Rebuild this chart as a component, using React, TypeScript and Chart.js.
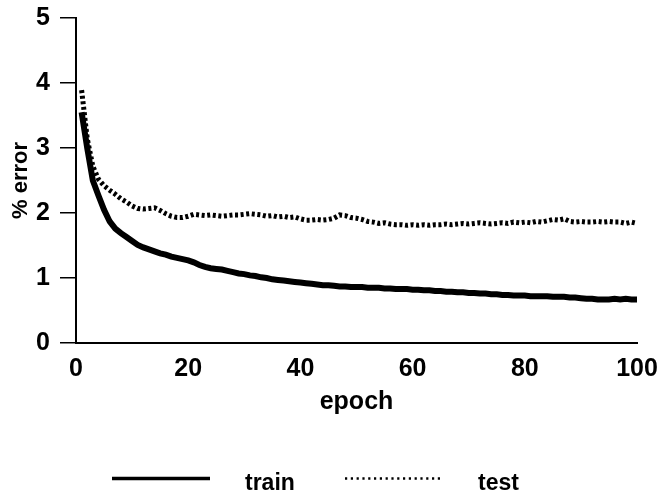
import React, { useEffect, useRef } from "react";
import { Chart, registerables } from "chart.js";

Chart.register(...registerables);

// epoch index (category positions 1..100)
const epochs: number[] = Array.from({ length: 100 }, (_, i) => i + 1);

const trainError: number[] = [
  3.55, 3.0, 2.5, 2.27, 2.05, 1.87, 1.76, 1.69, 1.63, 1.57,
  1.51, 1.47, 1.44, 1.41, 1.38, 1.36, 1.33, 1.31, 1.29, 1.27,
  1.24, 1.2, 1.17, 1.15, 1.14, 1.13, 1.11, 1.09, 1.07, 1.06,
  1.04, 1.03, 1.01, 1.0, 0.98, 0.97, 0.96, 0.95, 0.94, 0.93,
  0.92, 0.91, 0.9, 0.89, 0.89, 0.88, 0.87, 0.87, 0.86, 0.86,
  0.86, 0.85, 0.85, 0.85, 0.84, 0.84, 0.83, 0.83, 0.83, 0.82,
  0.82, 0.81, 0.81, 0.8, 0.8, 0.79, 0.79, 0.78, 0.78, 0.77,
  0.77, 0.76, 0.76, 0.75, 0.75, 0.74, 0.74, 0.73, 0.73, 0.73,
  0.72, 0.72, 0.72, 0.72, 0.71, 0.71, 0.71, 0.7, 0.7, 0.69,
  0.68, 0.68, 0.67, 0.67, 0.67, 0.68, 0.67, 0.68, 0.67, 0.67,
];

const testError: number[] = [
  3.89, 3.15, 2.72, 2.52, 2.42, 2.35, 2.29, 2.22, 2.17, 2.11,
  2.07, 2.06, 2.07, 2.08, 2.04, 1.99, 1.95, 1.93, 1.93, 1.95,
  1.98, 1.97, 1.96, 1.97, 1.96, 1.95, 1.96, 1.97, 1.97, 1.98,
  1.99, 1.98, 1.97, 1.95, 1.96, 1.94, 1.95, 1.93, 1.94, 1.91,
  1.89, 1.89, 1.9, 1.89, 1.9, 1.92, 1.97, 1.96, 1.93, 1.92,
  1.9, 1.87, 1.86, 1.84, 1.85, 1.83, 1.82, 1.82, 1.81, 1.82,
  1.81, 1.82, 1.81, 1.82, 1.82, 1.83, 1.82, 1.83, 1.84, 1.83,
  1.84, 1.85, 1.84, 1.83, 1.84, 1.85, 1.84, 1.86, 1.85, 1.86,
  1.85, 1.87, 1.86, 1.88, 1.9, 1.89, 1.91, 1.87, 1.86, 1.87,
  1.86, 1.86, 1.87, 1.86, 1.87, 1.86, 1.86, 1.84, 1.86, 1.84,
];

const xTicks: number[] = [0, 20, 40, 60, 80, 100];
const yTicks: number[] = [0, 1, 2, 3, 4, 5];
const seriesLabels: string[] = ["train", "test"];
const xTitle = "epoch";
const yTitle = "% error";

const FONT = "'Liberation Sans', Arial, Helvetica, sans-serif";

const bottomLegend = {
  id: "bottomLegend",
  afterDraw(chart: any) {
    const ctx = chart.ctx;
    const ds = chart.data.datasets;
    ctx.save();
    ctx.strokeStyle = ds[0].borderColor;
    ctx.lineWidth = 3.5;
    ctx.setLineDash([]);
    ctx.beginPath();
    ctx.moveTo(112, 478.5);
    ctx.lineTo(210, 478.5);
    ctx.stroke();
    ctx.strokeStyle = ds[1].borderColor;
    ctx.lineWidth = 2.5;
    ctx.setLineDash([2.2, 3.6]);
    ctx.beginPath();
    ctx.moveTo(345, 478.5);
    ctx.lineTo(443, 478.5);
    ctx.stroke();
    ctx.setLineDash([]);
    ctx.fillStyle = "#000";
    ctx.font = `bold 23px ${FONT}`;
    ctx.textAlign = "left";
    ctx.textBaseline = "alphabetic";
    ctx.fillText(ds[0].label, 245, 490);
    ctx.fillText(ds[1].label, 478, 490);
    ctx.restore();
  },
};

export default function App() {
  const ref = useRef<HTMLCanvasElement | null>(null);

  useEffect(() => {
    if (!ref.current) return;
    const chart = new Chart(ref.current, {
      type: "line",
      data: {
        datasets: [
          {
            label: seriesLabels[0],
            data: epochs.map((e, i) => ({ x: e, y: trainError[i] })),
            borderColor: "#000",
            borderWidth: 6,
            pointRadius: 0,
            tension: 0,
            fill: false,
          },
          {
            label: seriesLabels[1],
            data: epochs.map((e, i) => ({ x: e, y: testError[i] })),
            borderColor: "#000",
            borderWidth: 5,
            borderDash: [3, 2.6],
            pointRadius: 0,
            tension: 0,
            fill: false,
          },
        ],
      },
      options: {
        animation: false,
        responsive: false,
        layout: { padding: { top: 18, right: 23, bottom: 82, left: 0 } },
        plugins: {
          legend: { display: false },
          tooltip: { enabled: false },
        },
        scales: {
          x: {
            type: "linear",
            min: 0,
            max: 100,
            afterBuildTicks: (s: any) => {
              s.ticks = xTicks.map((v) => ({ value: v }));
            },
            afterFit: (s: any) => {
              s.height = 72;
            },
            grid: { display: false, drawTicks: false },
            border: { display: true, color: "#000", width: 2 },
            ticks: {
              color: "#000",
              padding: 2,
              font: { family: FONT, size: 25, weight: "bold", lineHeight: 1.9 },
              maxRotation: 0,
            },
            title: {
              display: true,
              text: xTitle,
              color: "#000",
              font: { family: FONT, size: 25, weight: "bold", lineHeight: 1.0 },
              padding: { top: 0, bottom: 0 },
            },
          },
          y: {
            type: "linear",
            min: 0,
            max: 5,
            afterBuildTicks: (s: any) => {
              s.ticks = yTicks.map((v) => ({ value: v }));
            },
            afterFit: (s: any) => {
              s.width = 76;
            },
            grid: {
              drawOnChartArea: false,
              drawTicks: true,
              tickLength: 16,
              color: "#000",
              lineWidth: 1.5,
            },
            border: { display: true, color: "#000", width: 2 },
            ticks: {
              color: "#000",
              padding: 10,
              font: { family: FONT, size: 25, weight: "bold", lineHeight: 0.4 },
            },
            title: {
              display: true,
              text: yTitle,
              color: "#000",
              font: { family: FONT, size: 22, weight: "bold" },
              padding: { top: 8, bottom: 2 },
            },
          },
        },
      },
      plugins: [bottomLegend],
    } as any);
    return () => chart.destroy();
  }, []);

  return (
    <div style={{ position: "absolute", left: 0, top: 0, width: 660, height: 497, background: "#fff" }}>
      <canvas ref={ref} width={660} height={497} />
    </div>
  );
}
